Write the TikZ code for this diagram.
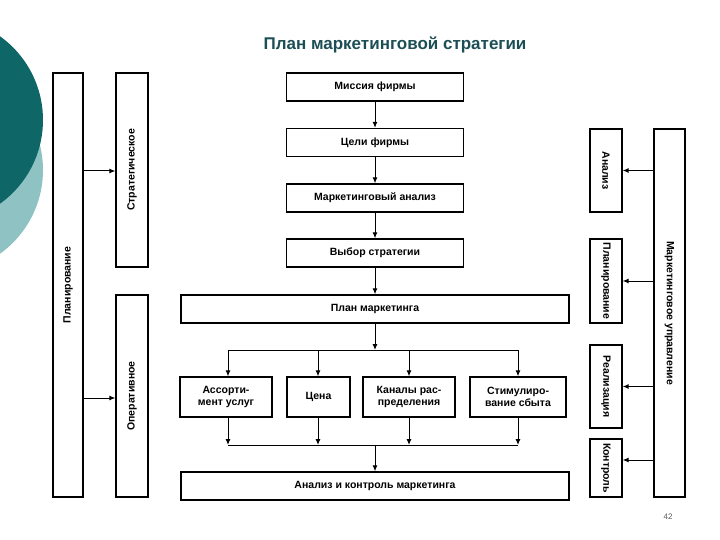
\documentclass[tikz,border=0pt]{standalone}
\usepackage{fontspec}
\setmainfont{Liberation Sans}
\usetikzlibrary{arrows.meta}
\definecolor{dteal}{HTML}{0E6666}
\definecolor{lteal}{HTML}{8FC3C3}
\definecolor{ttl}{HTML}{1C4F55}
\begin{document}
\begin{tikzpicture}[x=1pt,y=-1pt,
  bx/.style={draw,line width=1.3pt,inner sep=0pt,font=\bfseries\fontsize{10.5}{11.5}\selectfont,align=center},
  vt/.style={font=\bfseries\fontsize{10.5}{11.5}\selectfont},
  ar/.style={line width=1pt,-{Latex[length=6pt,width=5pt]}},
  ln/.style={line width=1pt}]
\useasboundingbox (0,0) rectangle (720,540);
\fill[lteal] (-60,170) circle (103);
\fill[dteal] (-60,120) circle (103);
\node[font=\bfseries\fontsize{17}{20}\selectfont,text=ttl] (title) at (395,45) {План маркетинговой стратегии};
% left
\node[bx,minimum width=30,minimum height=424] (plan) at (68,285) {};
\node[rotate=90,vt] (plant) at (68,285) {Планирование};
\node[bx,minimum width=32,minimum height=194] (strat) at (132,170) {};
\node[rotate=90,vt] (stratt) at (132,170) {Стратегическое};
\node[bx,minimum width=32,minimum height=202] (oper) at (132,396) {};
\node[rotate=90,vt] (opert) at (132,396) {Оперативное};
\draw[ar] (plan.east |- 0,171) -- (strat.west |- 0,171);
\draw[ar] (plan.east |- 0,398) -- (oper.west |- 0,398);
% center
\node[bx,minimum width=177,minimum height=28] (m) at (375,87) {Миссия фирмы};
\node[bx,minimum width=177,minimum height=28] (c) at (375,142.5) {Цели фирмы};
\node[bx,minimum width=177,minimum height=28] (a) at (375,198) {Маркетинговый анализ};
\node[bx,minimum width=177,minimum height=28] (v) at (375,253) {Выбор стратегии};
\node[bx,minimum width=388,minimum height=28] (p) at (375,309) {План маркетинга};
\draw[ar] (m) -- (c);
\draw[ar] (c) -- (a);
\draw[ar] (a) -- (v);
\draw[ar] (v) -- (p);
\node[bx,minimum width=92,minimum height=40] (b1) at (226,397) {Ассорти-\\мент услуг};
\node[bx,minimum width=63,minimum height=40] (b2) at (318.5,397) {Цена};
\node[bx,minimum width=92,minimum height=40] (b3) at (409,397) {Каналы рас-\\пределения};
\node[bx,minimum width=96,minimum height=40] (b4) at (518,397) {Стимулиро-\\вание сбыта};
\node[bx,minimum width=388,minimum height=28] (k) at (375,486) {Анализ и контроль маркетинга};
\coordinate (t) at (375,350);
\coordinate (u) at (375,445);
\draw[ar] (p) -- (t);
\draw[ln] (228,350) -- (518,350);
\draw[ln] (228,445) -- (518,445);
\foreach \n/\xx in {b1/228,b2/318,b3/409,b4/518}{
  \draw[ar] (\xx,350) -- (\n.north -| \xx,0);
  \draw[ar] (\n.south -| \xx,0) -- (\xx,445);
}
\draw[ar] (u) -- (k);
% right
\node[bx,minimum width=31,minimum height=368] (mu) at (669.5,313) {};
\node[rotate=-90,vt] (mut) at (669.5,313) {Маркетинговое управление};
\node[bx,minimum width=32,minimum height=83] (r1) at (606,170.5) {};
\node[rotate=-90,vt] at (606,170.5) {Анализ};
\node[bx,minimum width=32,minimum height=84] (r2) at (606,281) {};
\node[rotate=-90,vt] at (606,281) {Планирование};
\node[bx,minimum width=32,minimum height=83] (r3) at (606,386.5) {};
\node[rotate=-90,vt] at (606,386.5) {Реализация};
\node[bx,minimum width=32,minimum height=58] (r4) at (606,468) {};
\node[rotate=-90,vt] at (606,468) {Контроль};
\draw[ar] (mu.west |- r1) -- (r1);
\draw[ar] (mu.west |- r2) -- (r2);
\draw[ar] (mu.west |- r3) -- (r3);
\draw[ar] (mu.west |- 0,460) -- (r4.east |- 0,460);
\node[font=\fontsize{8}{9}\selectfont,text=gray!70!black] (pg) at (668,517) {42};
\end{tikzpicture}
\end{document}
